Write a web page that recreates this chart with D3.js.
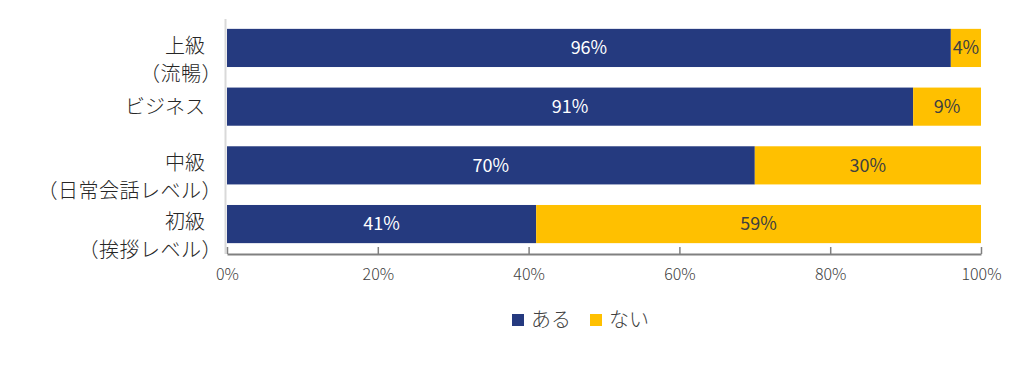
<!DOCTYPE html>
<html>
<head>
<meta charset="utf-8">
<script src="https://cdn.jsdelivr.net/npm/d3@7"></script>
<style>
  body { margin: 0; background: #fff; }
  text { font-family: "Noto Sans CJK JP", "Noto Sans", sans-serif; font-weight: 300; }
</style>
</head>
<body>
<script>
// Data
var categories = ["上級（流暢）", "ビジネス", "中級（日常会話レベル）", "初級（挨拶レベル）"];
var labelLines = [["上級", "（流暢）"], ["ビジネス"], ["中級", "（日常会話レベル）"], ["初級", "（挨拶レベル）"]];
var aru  = [96, 91, 70, 41];
var nai  = [4, 9, 30, 59];
var seriesNames  = ["ある", "ない"];
var seriesColors = ["#253A7F", "#FFC000"];
var tickValues = [0, 20, 40, 60, 80, 100];

var width = 1022, height = 378;

var svg = d3.select("body").append("svg")
  .attr("width", width).attr("height", height);

var x = d3.scaleLinear().domain([0, 100]).range([227, 981]);
var y = d3.scaleBand().domain(categories).range([18, 254])
  .paddingInner(0.35).paddingOuter(0.185);

// Stack
var rows = categories.map(function(c, i){ return { cat: c, aru: aru[i], nai: nai[i] }; });
var stack = d3.stack().keys(["aru", "nai"])(rows);

// Y axis line
svg.append("line")
  .attr("x1", 225.5).attr("x2", 225.5)
  .attr("y1", 19).attr("y2", 254)
  .attr("stroke", "#d9d9d9").attr("stroke-width", 2);

// Bars
var layers = svg.selectAll("g.layer").data(stack).enter().append("g")
  .attr("class", "layer")
  .attr("fill", function(d, i){ return seriesColors[i]; });

layers.selectAll("rect").data(function(d){ return d; }).enter().append("rect")
  .attr("x", function(d){ return x(d[0]); })
  .attr("y", function(d){ return y(d.data.cat); })
  .attr("width", function(d){ return x(d[1]) - x(d[0]); })
  .attr("height", y.bandwidth());

// Data labels
layers.selectAll("text").data(function(d){ return d; }).enter().append("text")
  .attr("x", function(d){ return (x(d[0]) + x(d[1])) / 2; })
  .attr("y", function(d){ return y(d.data.cat) + y.bandwidth() / 2; })
  .attr("dy", "0.35em")
  .attr("text-anchor", "middle")
  .attr("font-size", 18)
  .style("font-weight", 400)
  .attr("fill", function(){ return d3.select(this.parentNode).datum().key === "aru" ? "#ffffff" : "#404040"; })
  .text(function(d){ return (d[1] - d[0]) + "%"; });

// X axis
var xAxis = svg.append("g")
  .attr("transform", "translate(0,254)")
  .call(d3.axisBottom(x).tickValues(tickValues).tickSizeInner(-7).tickSizeOuter(0)
    .tickFormat(function(d){ return d + "%"; }));
xAxis.select(".domain").attr("stroke", "#808080").attr("stroke-width", 2);
xAxis.selectAll(".tick line").attr("stroke", "#808080").attr("stroke-width", 1.5);
xAxis.selectAll(".tick text")
  .attr("y", 15)
  .attr("font-size", 16)
  .attr("fill", "#404040")
  .style("font-family", "'Noto Sans CJK JP', sans-serif")
  .style("font-weight", 300);

// Category labels
var lh = 28;
categories.forEach(function(c, i){
  var lines = labelLines[i];
  var cy = y(c) + y.bandwidth() / 2;
  var start = lines.length > 1 ? cy - (lines.length - 1) * lh / 2 + 12 : cy;
  var t = svg.append("text")
    .attr("text-anchor", "end")
    .attr("font-size", 20)
    .attr("fill", "#262626");
  lines.forEach(function(l, j){
    t.append("tspan")
      .attr("x", l.charAt(0) === "（" ? 222 : 205)
      .attr("y", start + j * lh)
      .attr("dy", "0.35em")
      .attr("letter-spacing", l.charAt(0) === "（" ? 0.5 : 0)
      .text(l);
  });
});

// Legend
var legend = svg.append("g").attr("transform", "translate(512,320)");
var items = [{ x: 0, i: 0 }, { x: 78, i: 1 }];
items.forEach(function(it){
  var g = legend.append("g").attr("transform", "translate(" + it.x + ",0)");
  g.append("rect").attr("x", 0).attr("y", -6).attr("width", 12).attr("height", 12)
    .attr("fill", seriesColors[it.i]);
  g.append("text").attr("x", 19).attr("dy", "0.35em")
    .attr("font-size", 20).attr("fill", "#404040")
    .text(seriesNames[it.i]);
});
</script>
</body>
</html>
